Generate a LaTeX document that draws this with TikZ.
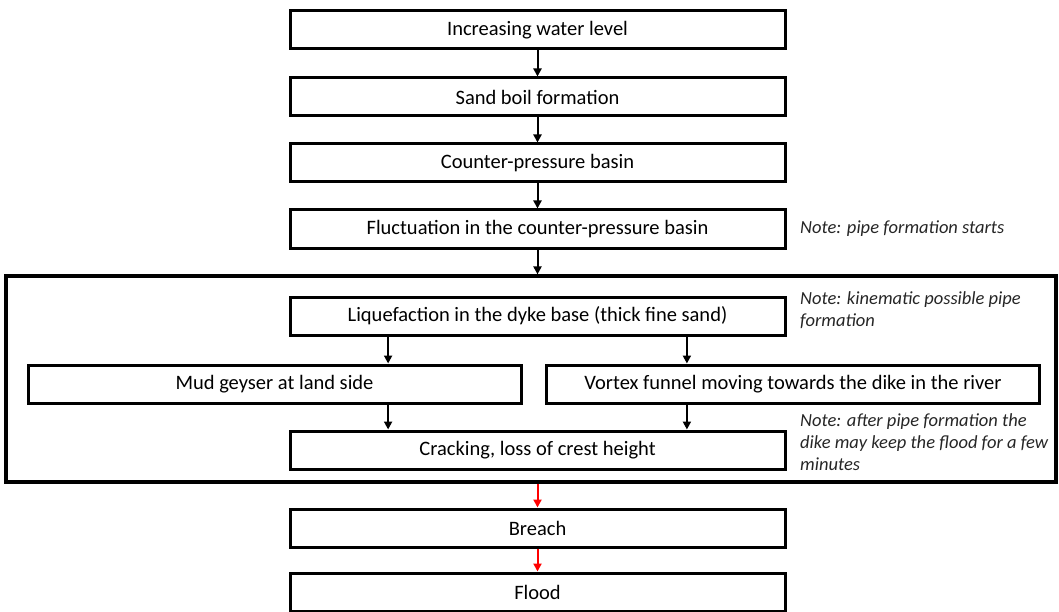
\documentclass[tikz,border=0pt]{standalone}
\usepackage{fontspec}
\setmainfont{Carlito}
\usetikzlibrary{calc,arrows.meta}

\begin{document}
\begin{tikzpicture}[x=1pt, y=-1pt,
	box/.style={shape=rectangle, draw, line width=3pt, minimum width=495pt, minimum height=38pt, inner sep=0pt, font=\fontsize{20.5}{24}\selectfont},
	sidebox/.style={box, minimum width=493pt},
	note/.style={align=left, inner sep=0pt, text=black!85, font=\fontsize{18.5}{22}\selectfont\itshape},
	arr/.style={-{Triangle[length=8pt, width=8pt]}, line width=2pt}]
			\useasboundingbox (0, 0) rectangle (1059, 612);
			% main chain
			\node[box](N1) at (537.5, 30){Increasing water level};
			\node[box](N2) at (537.5, 97){Sand boil formation};
			\node[box](N3) at (537.5, 163){Counter-pressure basin};
			\node[box](N4) at (537.5, 229){Fluctuation in the counter-pressure basin};
			\node[note, anchor=west] at (800, 229){Note: pipe formation starts};
			% frame
			\node[shape=rectangle, draw, line width=3.2pt, minimum width=1050pt, minimum height=206pt, inner sep=0pt](F) at (531, 379){};
			\node[box](N5) at (537.5, 316){Liquefaction in the dyke base (thick fine sand)};
			\node[note, anchor=north west] at (800, 291){Note: kinematic possible pipe\\formation};
			\node[sidebox](N6) at (274.5, 384){Mud geyser at land side};
			\node[sidebox](N7) at (793, 384){Vortex funnel moving towards the dike in the river};
			\node[box](N8) at (537.5, 450){Cracking, loss of crest height};
			\node[note, anchor=north west] at (800, 413){Note: after pipe formation the\\dike may keep the flood for a few\\minutes};
			\node[box](N9) at (537.5, 528){Breach};
			\node[box](N10) at (537.5, 592){Flood};
			% arrows
			\draw[arr] (N1) -- (N2);
			\draw[arr] (N2) -- (N3);
			\draw[arr] (N3) -- (N4);
			\draw[arr] (N4.south) -- (N4.south |- F.north);
			\coordinate (L1) at ($(N5.south west)!0.2!(N5.south east)$);
			\coordinate (L2) at ($(N5.south west)!0.8!(N5.south east)$);
			\draw[arr] (L1) -- (L1 |- N6.north);
			\draw[arr] (L2) -- (L2 |- N7.north);
			\draw[arr] (L1 |- N6.south) -- (L1 |- N8.north);
			\draw[arr] (L2 |- N7.south) -- (L2 |- N8.north);
			\draw[arr, red] (N9.north |- F.south) -- (N9.north);
			\draw[arr, red] (N9) -- (N10);
		\end{tikzpicture}
\end{document}
